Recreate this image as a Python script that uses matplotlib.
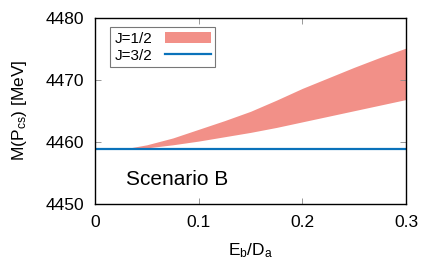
import matplotlib
matplotlib.use("Agg")
import matplotlib.pyplot as plt
import numpy as np

plt.rcParams["font.family"] = ["Liberation Sans", "DejaVu Sans"]
plt.rcParams["mathtext.fontset"] = "custom"
plt.rcParams["mathtext.rm"] = "Liberation Sans"
plt.rcParams["mathtext.it"] = "Liberation Sans"

# band for J=1/2 (lower / upper edge) vs Eb/Da
eb = [0.0, 0.02, 0.035, 0.05, 0.075, 0.1, 0.125, 0.15, 0.175, 0.2, 0.225, 0.25, 0.275, 0.3]
j12_lo = [4458.8, 4458.8, 4458.85, 4459.0, 4459.5, 4460.1, 4460.8, 4461.5, 4462.3,
          4463.2, 4464.1, 4465.0, 4465.9, 4466.8]
j12_hi = [4458.8, 4458.8, 4459.05, 4459.5, 4460.6, 4462.0, 4463.4, 4464.9, 4466.7,
          4468.6, 4470.3, 4472.0, 4473.6, 4475.1]
# J=3/2 constant
j32 = [4458.8, 4458.8]
j32_x = [0.0, 0.3]

fig = plt.figure(figsize=(4.36, 2.73), dpi=100)
ax = fig.add_axes([95 / 436, 1 - 203.7 / 273, 311 / 436, 186 / 273])

ax.fill_between(eb, j12_lo, j12_hi, color="#f29088", lw=0, label="J=1/2")
ax.plot(j32_x, j32, color="#0a72ba", lw=1.6, label="J=3/2")

ax.set_xlim(0, 0.3)
ax.set_ylim(4450, 4480)
ax.set_xticks([0, 0.1, 0.2, 0.3])
ax.set_xticklabels(["0", "0.1", "0.2", "0.3"])
ax.set_yticks([4450, 4460, 4470, 4480])
ax.tick_params(direction="in", top=True, right=True, labelsize=12.5, length=4,
               width=0.6, color="#888888", pad=8)
for s in ax.spines.values():
    s.set_linewidth(1.0)

ax.set_xlabel("E$_\\mathregular{b}$/D$_\\mathregular{a}$", fontsize=12.5, labelpad=8)
ax.set_ylabel("M(P$_\\mathregular{cs}$) [MeV]", fontsize=12.5, labelpad=12)

ax.text(0.0795, 4453.9, "Scenario B", fontsize=15, ha="center", va="center")

leg = ax.legend(loc="upper left", bbox_to_anchor=(0.025, 0.99), markerfirst=False,
                fontsize=11, frameon=True, fancybox=False, handlelength=3.0,
                borderpad=0.3, labelspacing=0.2, handletextpad=0.8)
leg.get_frame().set_edgecolor("#555555")
leg.get_frame().set_linewidth(0.8)

fig.savefig("out.png", dpi=100)
